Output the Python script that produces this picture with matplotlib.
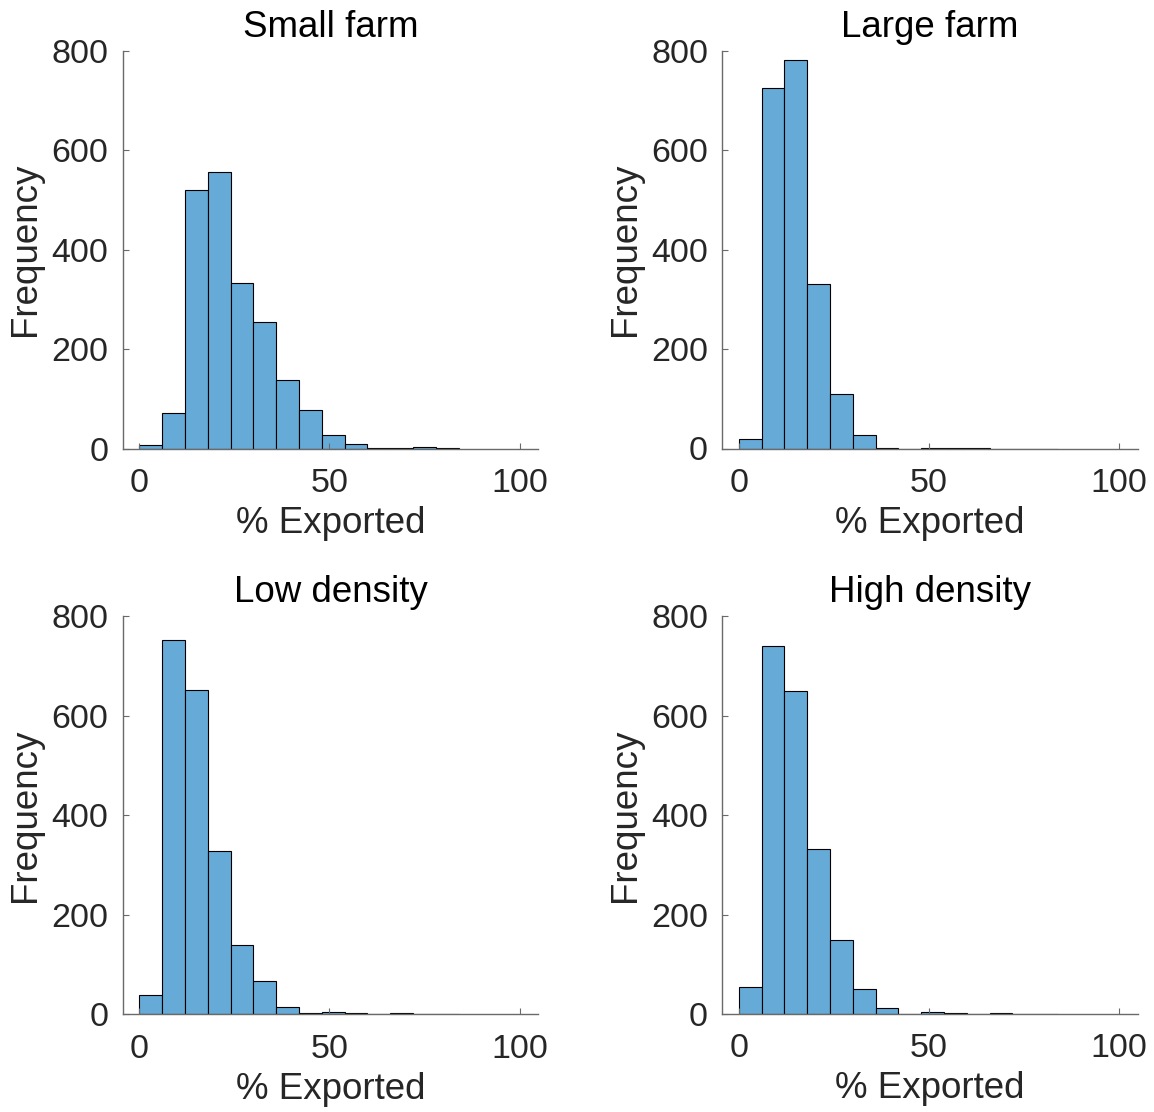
import numpy as np
import matplotlib
matplotlib.use("Agg")
import matplotlib.pyplot as plt

plt.rcParams['font.family'] = ['Liberation Sans', 'DejaVu Sans']

# Histogram bin edges (% exported), width 6
bin_edges = np.arange(0, 90, 6)  # 0, 6, ..., 84

titles = ["Small farm", "Large farm", "Low density", "High density"]

# Counts per bin for each scenario
small_farm = [7, 72, 519, 557, 333, 254, 138, 78, 27, 9, 2, 2, 4, 2]
large_farm = [19, 725, 782, 330, 109, 27, 2, 0, 2, 2, 2, 0, 0, 0]
low_density = [38, 752, 651, 329, 140, 66, 15, 2, 4, 2, 0, 2, 0, 0]
high_density = [54, 740, 649, 332, 148, 50, 12, 1, 4, 2, 0, 2, 0, 0]

series = [small_farm, large_farm, low_density, high_density]

y_ticks = [0, 200, 400, 600, 800]
x_ticks = [0, 50, 100]

W, H = 1154, 1112
fig = plt.figure(figsize=(W / 100, H / 100), dpi=100)

# Axes boxes in pixels: (left, right, top, bottom)
boxes = [
    (122.5, 538.3, 50.7, 448.7),
    (722.0, 1137.5, 50.7, 448.5),
    (122.5, 538.3, 616.3, 1014.3),
    (722.0, 1137.5, 616.3, 1014.0),
]

face = (0.4, 0.668, 0.845)
spine_col = '#6a6a6a'
text_col = '#262626'

for title, counts, (l, r, t, b) in zip(titles, series, boxes):
    ax = fig.add_axes([l / W, 1 - b / H, (r - l) / W, (b - t) / H])
    ax.bar(bin_edges[:-1], counts, width=np.diff(bin_edges), align='edge',
           color=face, edgecolor='black', linewidth=0.8)
    ax.set_xlim(-4.4, 104.9)
    ax.set_ylim(0, 800)
    ax.set_xticks(x_ticks)
    ax.set_yticks(y_ticks)
    for s in ['top', 'right']:
        ax.spines[s].set_visible(False)
    for s in ['left', 'bottom']:
        ax.spines[s].set_color(spine_col)
        ax.spines[s].set_linewidth(1.0)
    ax.tick_params(direction='in', length=4, width=0.8, color=spine_col,
                   labelsize=24.5, labelcolor=text_col)
    ax.tick_params(axis='x', pad=14)
    ax.tick_params(axis='y', pad=10)
    ax.set_xlabel('% Exported', fontsize=26.5, color=text_col, labelpad=5)
    ax.set_ylabel('Frequency', fontsize=26.5, color=text_col, labelpad=6)
    ax.set_title(title, fontsize=26.5, color='black', pad=10)

fig.savefig('out.png', dpi=100)
